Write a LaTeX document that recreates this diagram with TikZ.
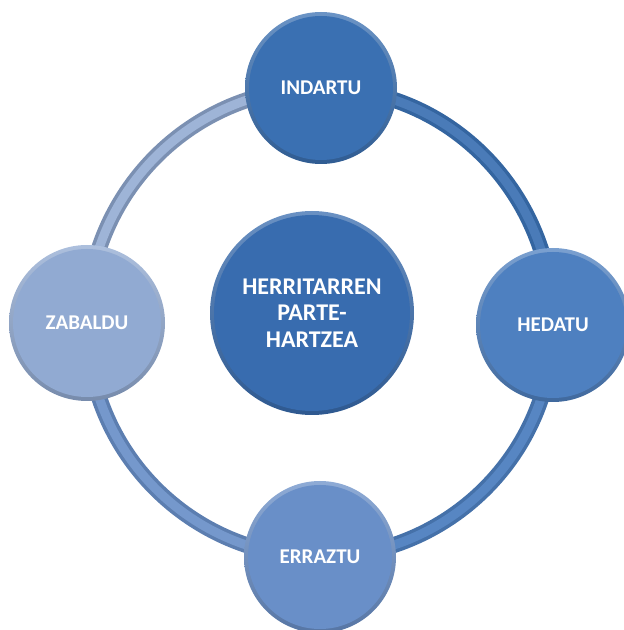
\documentclass[tikz,border=0pt]{standalone}
\usepackage{fontspec}
\setmainfont{Carlito}
\usepackage{tikz}
\usetikzlibrary{backgrounds}

\definecolor{indblue}{RGB}{58,112,178}
\definecolor{hedblue}{RGB}{78,128,192}
\definecolor{errblue}{RGB}{105,143,200}
\definecolor{zabblue}{RGB}{145,170,210}
\definecolor{midblue}{RGB}{56,108,175}

\tikzset{
  bubble/.style 2 args={circle, minimum size=2*#2, inner sep=0pt,
    top color=#1!75!white, bottom color=#1!82!black, text=white,
    font=\bfseries\fontsize{21}{26}\selectfont, align=center,
    path picture={\fill[#1] (path picture bounding box.center) circle (#2-4);}},
  tube/.style 2 args={draw=#1, double=#2, line width=3.5, double distance=9, line cap=round}
}

\begin{document}
\begin{tikzpicture}[x=1pt, y=1pt]
\useasboundingbox (0,0) rectangle (624,630);
\node [bubble={indblue}{76}] (ind) at (321,542) {INDARTU};
\node [bubble={hedblue}{77}] (hed) at (553,305) {HEDATU};
\node [bubble={errblue}{76}] (err) at (320,73) {ERRAZTU};
\node [bubble={zabblue}{78}] (zab) at (87,307) {ZABALDU};
\node [bubble={midblue}{102}, font=\bfseries\fontsize{24}{26.5}\selectfont] (mid) at (312,317) {HERRITARREN\\PARTE-\\HARTZEA};
\begin{scope}[on background layer]
  \draw [tube={indblue!90!black}{indblue!92!white}] (ind.center) to[out=0, in=90] (hed.center);
  \draw [tube={hedblue!88!black}{hedblue!95!white}] (hed.center) to[out=-90, in=0] (err.center);
  \draw [tube={errblue!88!black}{errblue!92!white}] (err.center) to[out=180, in=-90] (zab.center);
  \draw [tube={zabblue!85!black}{zabblue!88!white}] (zab.center) to[out=90, in=180] (ind.center);
\end{scope}
\end{tikzpicture}
\end{document}
